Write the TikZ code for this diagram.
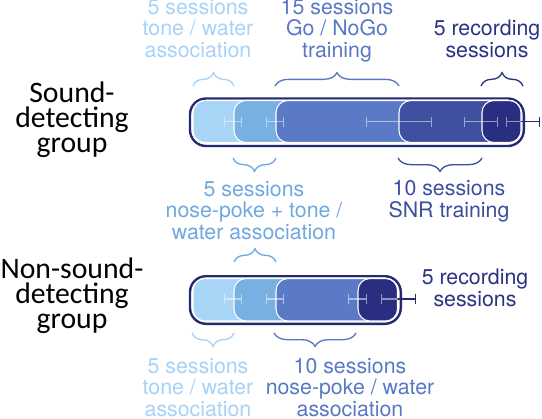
\documentclass[tikz,border=0pt]{standalone}
\usepackage{fontspec}
\setmainfont{TeX Gyre Heros}
\newfontfamily\grpfont{Carlito}
\usetikzlibrary{arrows.meta,decorations.pathreplacing}

\definecolor{segOne}{HTML}{A8D4F6}
\definecolor{segTwo}{HTML}{78B0E2}
\definecolor{segThree}{HTML}{5B7AC6}
\definecolor{segFour}{HTML}{3E509F}
\definecolor{segFive}{HTML}{2A2E80}
\definecolor{barEdge}{HTML}{25296E}
\definecolor{txtLight}{HTML}{A6D2F7}
\definecolor{txtNose}{HTML}{6FA8E0}
\definecolor{txtGo}{HTML}{5878C4}
\definecolor{txtSnr}{HTML}{3C4E9E}
\definecolor{txtRec}{HTML}{2C3184}

\begin{document}
\begin{tikzpicture}[
  x=0.75pt,y=-0.75pt,
  font=\fontsize{16}{15.8}\selectfont,
  every node/.style={align=center,inner sep=0pt},
  sessLabel/.style={anchor=base},
  grpLabel/.style={anchor=base,font=\grpfont\fontsize{22.3}{18.75}\selectfont},
  outerBar/.style={draw=barEdge,line width=1.8pt,fill=white,rounded corners=12pt},
  segment/.style={draw=white,line width=0.8pt,rounded corners=9pt},
  errBar/.style={{Bar[width=7.5pt]}-{Bar[width=7.5pt]},draw=white,draw opacity=0.5,line width=1.1pt},
  errOut/.style={{Bar[width=7.5pt]}-{Bar[width=7.5pt]},draw=barEdge,line width=1.1pt},
  sessBrace/.style={decorate,decoration={brace,amplitude=10pt},line width=1pt}]

  \useasboundingbox (0,0) rectangle (542,418);

  % group names (base = last line)
  \node[grpLabel] (sndGrp) at (72,152) {Sound-\\detecting\\group};
  \node[grpLabel] (nonGrp) at (72,328) {Non-sound-\\detecting\\group};

  % top bar: sound-detecting group
  \draw[outerBar] (190,98.5) rectangle (523.8,146);
  \draw[segment,fill=segOne] (193,100.5) rectangle (521,142.5);
  \draw[segment,fill=segTwo] (234,100.5) rectangle (521,142.5);
  \draw[segment,fill=segThree] (276,100.5) rectangle (521,142.5);
  \draw[segment,fill=segFour] (399,100.5) rectangle (521,142.5);
  \draw[segment,fill=segFive] (482,100.5) rectangle (521,142.5);

  \draw[errBar] (224,121.5) -- (242,121.5);
  \draw[errBar] (266,121.5) -- (284,121.5);
  \draw[errBar] (366,121.5) -- (432,121.5);
  \draw[errBar] (464,121.5) -- (498,121.5);
  \draw[errOut] (506,121.5) -- (540,121.5);
  \begin{scope}
    \clip (193,100.5) rectangle (521,142.5);
    \draw[errBar] (506,121.5) -- (540,121.5);
  \end{scope}

  % bottom bar: non-sound-detecting group
  \draw[outerBar] (190,276.2) rectangle (400.8,323.8);
  \draw[segment,fill=segOne] (193,278.5) rectangle (397.5,321);
  \draw[segment,fill=segTwo] (234,278.5) rectangle (397.5,321);
  \draw[segment,fill=segThree] (276,278.5) rectangle (397.5,321);
  \draw[segment,fill=segFive] (358,278.5) rectangle (397.5,321);

  \draw[errBar] (224,299) -- (242,299);
  \draw[errBar] (266,299) -- (284,299);
  \draw[errBar] (348,299) -- (367,299);
  \draw[errOut] (381,299) -- (416,299);
  \begin{scope}
    \clip (193,278.5) rectangle (397.5,321);
    \draw[errBar] (381,299) -- (416,299);
  \end{scope}

  % braces over the top bar
  \draw[sessBrace,draw=txtLight] (193,86) -- (234,86);
  \draw[sessBrace,draw=txtGo] (275,86) -- (399,86);
  \draw[sessBrace,draw=txtRec] (481,86) -- (523,86);

  % braces under the top bar
  \draw[sessBrace,draw=txtNose] (276,158) -- (233,158);
  \draw[sessBrace,draw=txtSnr] (482,158) -- (398,158);

  % brace over the bottom bar
  \draw[sessBrace,draw=txtNose] (234,262) -- (276,262);

  % braces under the bottom bar
  \draw[sessBrace,draw=txtLight] (234,333) -- (192,333);
  \draw[sessBrace,draw=txtGo] (356,333) -- (274,333);

  % session labels (base = last line)
  \node[sessLabel,txtLight] (toneTop) at (198,57) {5 sessions\\tone / water\\association};
  \node[sessLabel,txtGo] (goTop) at (337,57) {15 sessions\\Go / NoGo\\training};
  \node[sessLabel,txtRec] (recTop) at (487,57) {5 recording\\sessions};
  \node[sessLabel,txtNose] (noseMid) at (254,239) {5 sessions\\nose-poke + tone /\\water association};
  \node[sessLabel,txtSnr] (snrMid) at (449,217) {10 sessions\\SNR training};
  \node[sessLabel,txtRec,font=\fontsize{16}{12}\selectfont] (recBot) at (475,306) {5 recording\\sessions};
  \node[sessLabel,txtLight] (toneBot) at (198,416) {5 sessions\\tone / water\\association};
  \node[sessLabel,txtGo] (noseBot) at (350,416) {10 sessions\\nose-poke / water\\association};
\end{tikzpicture}
\end{document}
